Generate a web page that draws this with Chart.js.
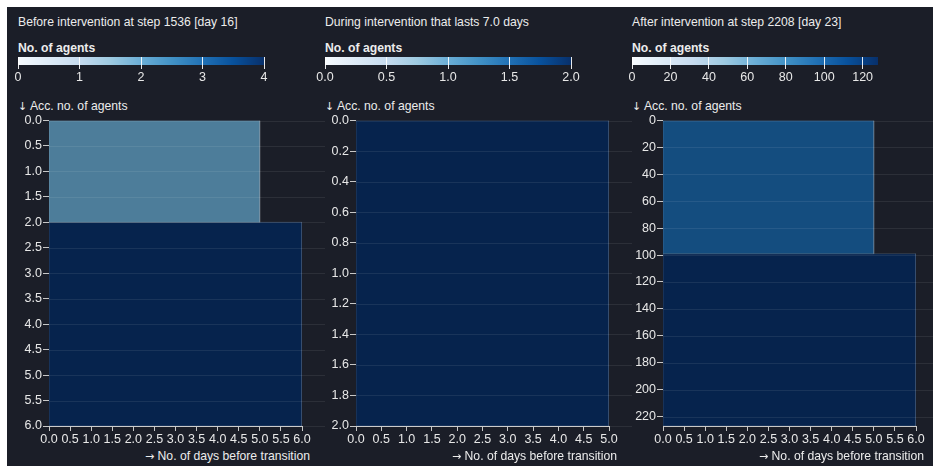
<!DOCTYPE html>
<html>
<head>
<meta charset="utf-8">
<script src="https://cdn.jsdelivr.net/npm/chart.js@4.4.1/dist/chart.umd.min.js"></script>
<style>
  html, body { margin: 0; padding: 0; background: #fff; overflow: hidden; }
  body { width: 933px; height: 466px; position: relative; font-family: "Liberation Sans", Arial, sans-serif; }
  #frame { position: absolute; left: 7px; top: 7px; right: 0; bottom: 0; background: #1b1e28; }
  .txt { position: absolute; color: #ececec; font-size: 12.2px; line-height: 16px; white-space: nowrap; }
  .bold { font-weight: bold; }
  .arrow { font-family: "DejaVu Sans", sans-serif; font-size: 11px; }
  canvas { position: absolute; }
</style>
</head>
<body>
<div id="frame"></div>
<script>
// one entry per panel
const panelTitles = [
  "Before intervention at step 1536 [day 16]",
  "During intervention that lasts 7.0 days",
  "After intervention at step 2208 [day 23]"
];

// groups of agents: days before transition and size of each group
const beforeDays = [5, 6];
const beforeAgents = [2, 4];
const duringDays = [5];
const duringAgents = [2];
const afterDays = [5, 6];
const afterAgents = [99, 128];

const groupDays = [beforeDays, duringDays, afterDays];
const groupAgents = [beforeAgents, duringAgents, afterAgents];

// tick spacing and label decimals
const xSteps = [0.5, 0.5, 0.5];
const ySteps = [0.5, 0.2, 20];
const yDecimals = [1, 1, 0];
const colorSteps = [1, 0.5, 20];
const colorDecimals = [0, 1, 0];

const TEXT = "#e8e8e8";
const AXIS = "#c8c8c8";
const FONT = { family: "'Liberation Sans', Arial, sans-serif", size: 12.5 };

const blues = ["#f7fbff", "#deebf7", "#c6dbef", "#9ecae1", "#6baed6", "#4292c6", "#2171b5", "#08519c", "#08306b"];

function hexToRgb(h) {
  return [1, 3, 5].map(i => parseInt(h.slice(i, i + 2), 16));
}

// sample the blues ramp at t (0..1), darkened by k
function blue(t, k) {
  const p = Math.min(Math.max(t, 0), 1) * (blues.length - 1);
  const i = Math.min(Math.floor(p), blues.length - 2);
  const f = p - i;
  const a = hexToRgb(blues[i]), b = hexToRgb(blues[i + 1]);
  const c = a.map((v, j) => Math.round((v + (b[j] - v) * f) * k));
  return "rgb(" + c.join(",") + ")";
}

// closed outline of each stacked group
function groupOutlines(days, agents) {
  let acc = 0;
  return days.map((d, j) => {
    const y0 = acc, y1 = acc + agents[j];
    acc = y1;
    return [{ x: 0, y: y0 }, { x: d, y: y0 }, { x: d, y: y1 }, { x: 0, y: y1 }, { x: 0, y: y0 }];
  });
}

// horizontal rules at each y tick, running on to the edge of the canvas
const rowLines = {
  id: "rowLines",
  afterDatasetsDraw(chart) {
    const { ctx, chartArea, scales } = chart;
    const y = scales.y;
    ctx.save();
    ctx.strokeStyle = "rgba(255,255,255,0.08)";
    ctx.lineWidth = 1;
    y.ticks.forEach(t => {
      const py = Math.round(y.getPixelForValue(t.value)) + 0.5;
      ctx.beginPath();
      ctx.moveTo(chartArea.left, py);
      ctx.lineTo(chart.width, py);
      ctx.stroke();
    });
    ctx.restore();
  }
};

// gradient ramp for the colour legend
const ramp = {
  id: "ramp",
  beforeDraw(chart) {
    const { ctx, chartArea: a } = chart;
    const g = ctx.createLinearGradient(a.left, 0, a.right, 0);
    blues.forEach((c, i) => g.addColorStop(i / (blues.length - 1), c));
    ctx.save();
    ctx.fillStyle = g;
    ctx.fillRect(a.left, a.top, a.right - a.left, a.bottom - a.top);
    ctx.restore();
  }
};

function addText(parts, left, top, cls, width, align) {
  const d = document.createElement("div");
  d.className = "txt " + (cls || "");
  [].concat(parts).forEach(p => {
    const s = document.createElement("span");
    if (typeof p === "string") { s.textContent = p; }
    else { s.textContent = p.text; s.className = p.cls; }
    d.appendChild(s);
  });
  d.style.left = left + "px";
  d.style.top = top + "px";
  if (width) { d.style.width = width + "px"; d.style.textAlign = align; }
  document.body.appendChild(d);
}

function addCanvas(left, top, w, h) {
  const c = document.createElement("canvas");
  c.width = w; c.height = h;
  c.style.left = left + "px";
  c.style.top = top + "px";
  document.body.appendChild(c);
  return c;
}

panelTitles.forEach((title, i) => {
  const L = 7 + i * 307;
  const days = groupDays[i];
  const agents = groupAgents[i];
  const total = agents.reduce((s, v) => s + v, 0);
  const cmax = Math.max(...agents);
  const xmax = Math.max(...days);

  addText(title, L + 11, 14);
  addText("No. of agents", L + 11, 40, "bold");
  addText([{ text: "\u2193", cls: "arrow" }, " Acc. no. of agents"], L + 11, 98);
  addText([{ text: "\u2192", cls: "arrow" }, " No. of days before transition"], L, 448, "", 303, "right");

  // colour legend
  new Chart(addCanvas(L, 50, 318, 40), {
    type: "scatter",
    data: { datasets: [] },
    options: {
      responsive: false,
      animation: false,
      devicePixelRatio: 1,
      layout: { padding: { left: 11, right: 61, top: 7, bottom: 0 } },
      plugins: { legend: { display: false }, tooltip: { enabled: false } },
      scales: {
        x: {
          type: "linear", min: 0, max: cmax,
          ticks: {
            stepSize: colorSteps[i], includeBounds: false, autoSkip: false, maxRotation: 0,
            color: TEXT, font: FONT, padding: 1,
            callback: v => v.toFixed(colorDecimals[i])
          },
          grid: { drawOnChartArea: true, color: "rgba(255,255,255,0.9)", tickLength: 4 },
          border: { display: false },
          afterFit: s => { s.height = 25; }
        },
        y: { display: false, min: 0, max: 1 }
      }
    },
    plugins: [ramp]
  });

  // stacked groups
  const outlines = groupOutlines(days, agents);
  new Chart(addCanvas(L, 112, 318, 354), {
    type: "scatter",
    data: {
      datasets: outlines.map((pts, j) => ({
        data: pts,
        showLine: true,
        fill: "shape",
        tension: 0,
        pointRadius: 0,
        borderWidth: 1,
        borderColor: "rgba(255,255,255,0.14)",
        backgroundColor: blue(agents[j] / cmax, 0.72)
      }))
    },
    options: {
      responsive: false,
      animation: false,
      devicePixelRatio: 1,
      layout: { padding: { left: 0, right: 23, top: 7, bottom: 0 } },
      plugins: { legend: { display: false }, tooltip: { enabled: false } },
      scales: {
        x: {
          type: "linear", min: 0, max: xmax, position: "bottom",
          ticks: {
            stepSize: xSteps[i], includeBounds: false, autoSkip: false, maxRotation: 0, minRotation: 0,
            color: TEXT, font: FONT, padding: 1,
            callback: v => v.toFixed(1)
          },
          grid: { drawOnChartArea: false, color: AXIS, tickLength: 5 },
          border: { display: true, color: AXIS },
          afterFit: s => { s.height = 40; }
        },
        y: {
          type: "linear", min: 0, max: total, reverse: true,
          ticks: {
            stepSize: ySteps[i], includeBounds: false, autoSkip: false,
            color: TEXT, font: FONT, padding: 1,
            callback: v => v.toFixed(yDecimals[i])
          },
          grid: { drawOnChartArea: false, color: AXIS, tickLength: 6 },
          border: { display: false },
          afterFit: s => { s.width = 42; }
        }
      }
    },
    plugins: [rowLines]
  });
});
</script>
</body>
</html>
